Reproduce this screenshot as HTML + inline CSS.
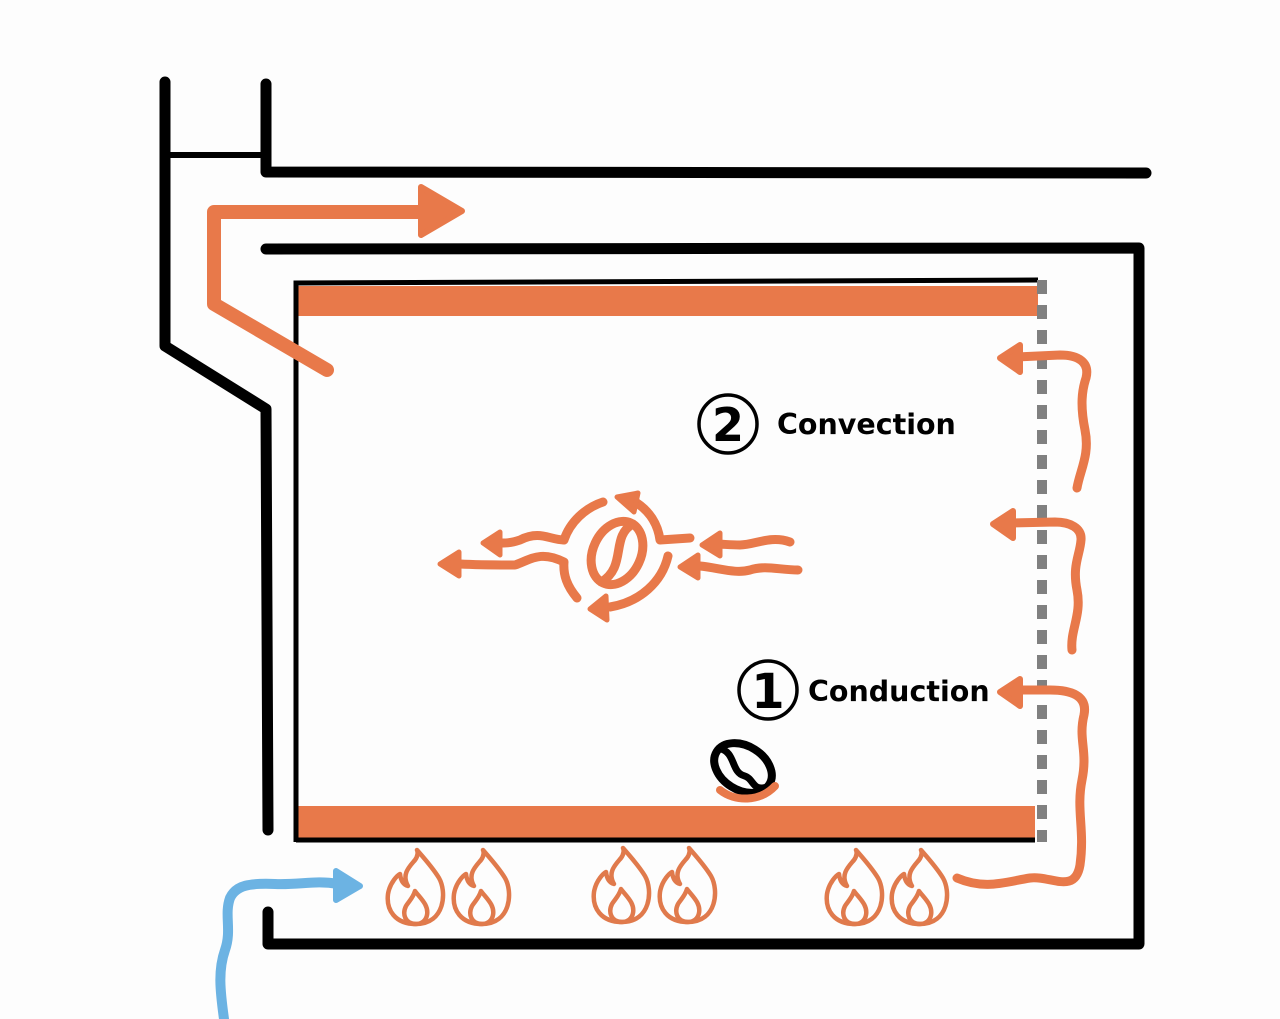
<!DOCTYPE html>
<html><head><meta charset="utf-8"><style>
html,body{margin:0;padding:0;background:#fdfdfd;}
svg{display:block;}
text{font-family:"DejaVu Sans","Liberation Sans",sans-serif;font-weight:bold;fill:#000;}
</style></head><body>
<svg width="1280" height="1019" viewBox="0 0 1280 1019" xmlns="http://www.w3.org/2000/svg">
<defs>
<g id="flame" fill="none" stroke="#e07a4c" stroke-width="4.5" stroke-linejoin="round" stroke-linecap="round">
<path d="M0,36 C-21,36 -30,22 -28,6 C-26,-6 -18,-13 -16,-14 C-15,-6 -12,-3 -8,-2 C-15,-14 -6,-22 -1,-28 C2,-32 2,-36 1,-38 C8,-30 17,-20 23,-10 C31,4 29,36 0,36 Z"/>
<path d="M0,36 C-11,36 -14,26 -10,18 C-7,13 -3,10 -1,3 C4,10 13,17 11,27 C10,33 5,36 0,36 Z"/>
</g>
</defs>

<g fill="none" stroke="#000" stroke-width="11" stroke-linecap="round" stroke-linejoin="round">
<path d="M165,82 L165,346 L266,409 L268,830"/>
<path d="M266,84 L266,172 L1146,173"/>
<path d="M266,249 L1139,248 L1139,944 L268,944 L268,912"/>
</g>
<line x1="165" y1="155" x2="266" y2="155" stroke="#000" stroke-width="6"/>

<rect x="297" y="286" width="741" height="30" fill="#e8794a"/>
<rect x="297" y="806" width="738" height="32" fill="#e8794a"/>
<path d="M296,842 L296,283 L1038,280" fill="none" stroke="#000" stroke-width="5"/>
<line x1="296" y1="840" x2="1035" y2="840" stroke="#000" stroke-width="5"/>
<line x1="1042" y1="280" x2="1042" y2="842" stroke="#808080" stroke-width="10" stroke-dasharray="14,11"/>

<g stroke="#e8794a" fill="none" stroke-width="14" stroke-linecap="round" stroke-linejoin="round">
<path d="M327,370 L214,304 L214,212 L425,212"/>
</g>
<path d="M421,187 L462,211 L421,235 Z" fill="#e8794a" stroke="#e8794a" stroke-width="6" stroke-linejoin="round"/>

<g stroke="#e8794a" fill="none" stroke-width="9" stroke-linecap="round" stroke-linejoin="round">
<path d="M1077,488 C1080,470 1090,455 1085,430 C1080,405 1082,390 1086,378 C1090,362 1078,355 1060,355 L1015,357"/>
<path d="M1072,650 C1070,630 1082,615 1077,590 C1072,565 1080,555 1081,540 C1082,528 1070,522 1055,522 L1010,523"/>
<path d="M957,878 C985,890 1005,882 1030,878 C1050,875 1075,895 1080,865 C1085,830 1076,810 1082,780 C1088,750 1078,740 1084,715 C1088,695 1070,690 1050,690 L1015,690"/>
</g>
<g fill="#e8794a" stroke="#e8794a" stroke-width="6" stroke-linejoin="round">
<path d="M1020,345 L1000,358 L1020,372 Z"/>
<path d="M1013,511 L993,524 L1013,538 Z"/>
<path d="M1020,679 L1000,692 L1020,706 Z"/>
</g>

<path d="M224,1019 C220,990 218,970 225,950 C232,930 224,915 230,898 C236,885 250,883 275,884 C300,885 315,880 338,884" fill="none" stroke="#6cb3e3" stroke-width="10" stroke-linecap="round"/>
<path d="M336,871 L360,886 L336,900 Z" fill="#6cb3e3" stroke="#6cb3e3" stroke-width="6" stroke-linejoin="round"/>

<use href="#flame" x="416" y="888"/>
<use href="#flame" x="482" y="888"/>
<use href="#flame" x="622" y="886"/>
<use href="#flame" x="688" y="886"/>
<use href="#flame" x="855" y="888"/>
<use href="#flame" x="920" y="888"/>

<circle cx="728" cy="424" r="29" fill="none" stroke="#000" stroke-width="3.5"/>
<text x="728" y="441" font-size="46" text-anchor="middle">2</text>
<text x="777" y="434" font-size="28.5">Convection</text>
<circle cx="768" cy="690" r="29" fill="none" stroke="#000" stroke-width="3.5"/>
<text x="768" y="708" font-size="48" text-anchor="middle">1</text>
<text x="808" y="701" font-size="28.5">Conduction</text>

<g transform="translate(743,768) rotate(32)">
<ellipse rx="31" ry="22" fill="none" stroke="#000" stroke-width="8"/>
<path d="M-30,-4 C-15,-10 -8,10 5,6 C15,3 20,15 30,4" fill="none" stroke="#000" stroke-width="7"/>
</g>
<path d="M720,790 C735,802 760,802 775,786" fill="none" stroke="#e8794a" stroke-width="8" stroke-linecap="round"/>

<g stroke="#e8794a" fill="none" stroke-width="9" stroke-linecap="round" stroke-linejoin="round">
<g transform="translate(617,553) rotate(25)">
<ellipse rx="24" ry="33"/>
<path d="M2,-33 C-13,-12 15,8 -2,33"/>
</g>
<path d="M603,502 C585,508 570,522 564,540"/>
<path d="M564,540 C550,540 540,530 520,540 C505,545 500,542 495,543"/>
<path d="M632,500 C650,510 658,525 660,540 L690,538"/>
<path d="M577,598 C567,586 563,575 564,562 C540,550 530,560 515,565 C500,565 480,565 460,564"/>
<path d="M668,556 C662,582 640,602 610,607"/>
<path d="M790,542 C770,535 755,545 740,545 C730,545 722,544 715,544"/>
<path d="M798,570 C780,570 765,565 750,570 C735,574 720,568 700,566"/>
</g>
<g fill="#e8794a" stroke="#e8794a" stroke-width="5" stroke-linejoin="round">
<path d="M459,552 L440,564 L459,576 Z"/>
<path d="M500,532 L483,543 L500,555 Z"/>
<path d="M617,497 L638,493 L634,512 Z"/>
<path d="M606,596 L590,609 L607,620 Z"/>
<path d="M720,533 L702,545 L720,556 Z"/>
<path d="M698,555 L680,567 L698,578 Z"/>
</g>
</svg>
</body></html>
